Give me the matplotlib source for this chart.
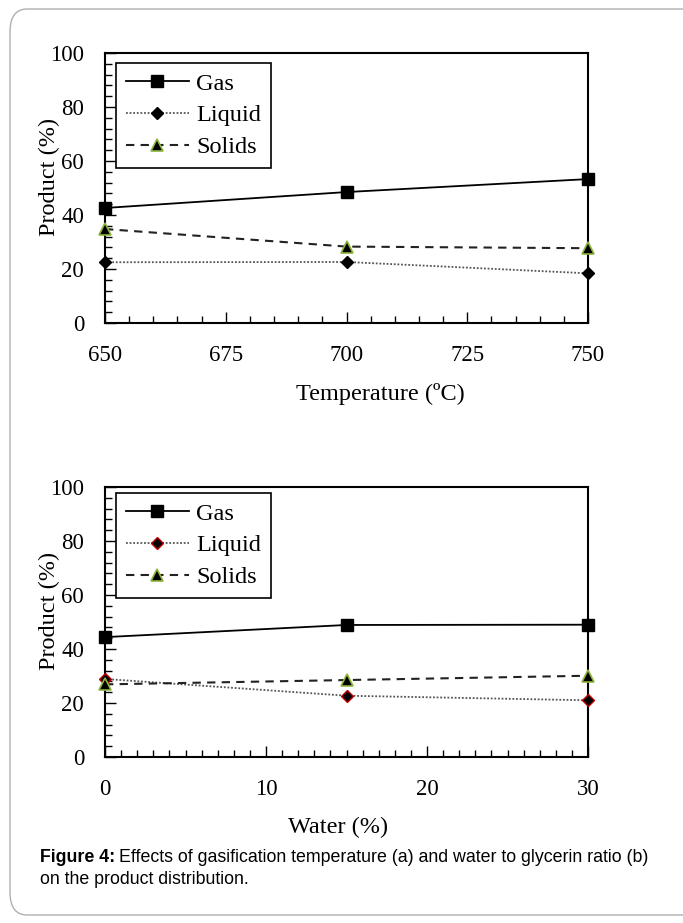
import matplotlib.pyplot as plt
from matplotlib.ticker import MultipleLocator
from matplotlib.patches import FancyBboxPatch

# (a) temperature series
temp = [650, 700, 750]
gas_a = [42.6, 48.5, 53.3]
liquid_a = [22.5, 22.6, 18.4]
solids_a = [34.8, 28.3, 27.7]

# (b) water series
water = [0, 15, 30]
gas_b = [44.4, 48.9, 49.0]
liquid_b = [28.9, 22.7, 21.0]
solids_b = [26.9, 28.5, 30.1]

serif = "Liberation Serif"
W, H = 683, 923

fig = plt.figure(figsize=(6.83, 9.23), dpi=100)

# rounded frame around the figure (right side runs off the image)
frame = FancyBboxPatch((10 / W, 8 / H), 700 / W, 906 / H,
                       boxstyle="round,pad=0,rounding_size=0.025",
                       transform=fig.transFigure, fill=False,
                       edgecolor="#b0b0b0", linewidth=1.0, clip_on=False)
fig.patches.append(frame)


def draw_panel(ax, x, gas, liq, sol, liq_edge, xmajor, xminor, xlabel, xlab_x, leg_y):
    ax.plot(x, gas, color="black", lw=1.3, marker="s", ms=9,
            mfc="black", mec="black", label="Gas", clip_on=False, zorder=5)
    ax.plot(x, liq, color="#555555", lw=1.3, ls=(0, (1, 1)), marker="D", ms=6.5,
            mfc="black", mec=liq_edge, mew=1.0, label="Liquid", clip_on=False, zorder=5)
    ax.plot(x, sol, color="#222222", lw=1.5, ls=(0, (4, 3)), marker="^", ms=8,
            mfc="black", mec="#8cb33c", mew=1.2, label="Solids", clip_on=False, zorder=5)

    ax.set_xlim(x[0], x[-1])
    ax.set_ylim(0, 100)
    ax.xaxis.set_major_locator(MultipleLocator(xmajor))
    ax.xaxis.set_minor_locator(MultipleLocator(xminor))
    ax.yaxis.set_major_locator(MultipleLocator(20))
    ax.yaxis.set_minor_locator(MultipleLocator(4))
    ax.tick_params(which="both", direction="in", top=False, right=False,
                   labelsize=16.5, width=1.0, colors="black")
    ax.tick_params(axis="x", which="both", pad=16)
    ax.tick_params(axis="y", which="both", pad=15)
    ax.tick_params(which="major", length=8)
    ax.tick_params(which="minor", length=5)
    for lab in ax.get_xticklabels() + ax.get_yticklabels():
        lab.set_fontfamily(serif)
    for sp in ax.spines.values():
        sp.set_linewidth(1.5)

    ax.set_xlabel(xlabel, fontsize=17.5, family=serif)
    ax.xaxis.set_label_coords(xlab_x, -0.222)
    ax.set_ylabel("Product (%)", fontsize=17.5, family=serif)
    ax.yaxis.set_label_coords(-0.093, 0.54)

    leg = ax.legend(loc="upper left", bbox_to_anchor=(0.023, leg_y),
                    borderaxespad=0, fancybox=False, framealpha=1,
                    edgecolor="black", handlelength=2.6, labelspacing=0.4,
                    handletextpad=0.3, borderpad=0.4,
                    prop={"family": serif, "size": 17.5})
    leg.get_frame().set_linewidth(1.2)


ax1 = fig.add_axes([105 / W, 1 - 323 / H, 483 / W, 270 / H])
draw_panel(ax1, temp, gas_a, liquid_a, solids_a, "black", 25, 5,
           "Temperature (ºC)", 0.571, 0.963)

ax2 = fig.add_axes([105 / W, 1 - 757 / H, 483 / W, 270 / H])
draw_panel(ax2, water, gas_b, liquid_b, solids_b, "#c00000", 10, 1,
           "Water (%)", 0.482, 0.978)

# caption
fs = 12.75
t = fig.text(40 / W, 1 - 857 / H, "Figure 4:", fontsize=fs, weight="bold",
             family="Liberation Sans", va="center")
fig.canvas.draw()
bb = t.get_window_extent()
fig.text((bb.x1 + 4) / W, 1 - 857 / H,
         "Effects of gasification temperature (a) and water to glycerin ratio (b)",
         fontsize=fs, family="Liberation Sans", va="center")
fig.text(40 / W, 1 - 880 / H, "on the product distribution.",
         fontsize=fs, family="Liberation Sans", va="center")

fig.savefig("out.png", dpi=100)
